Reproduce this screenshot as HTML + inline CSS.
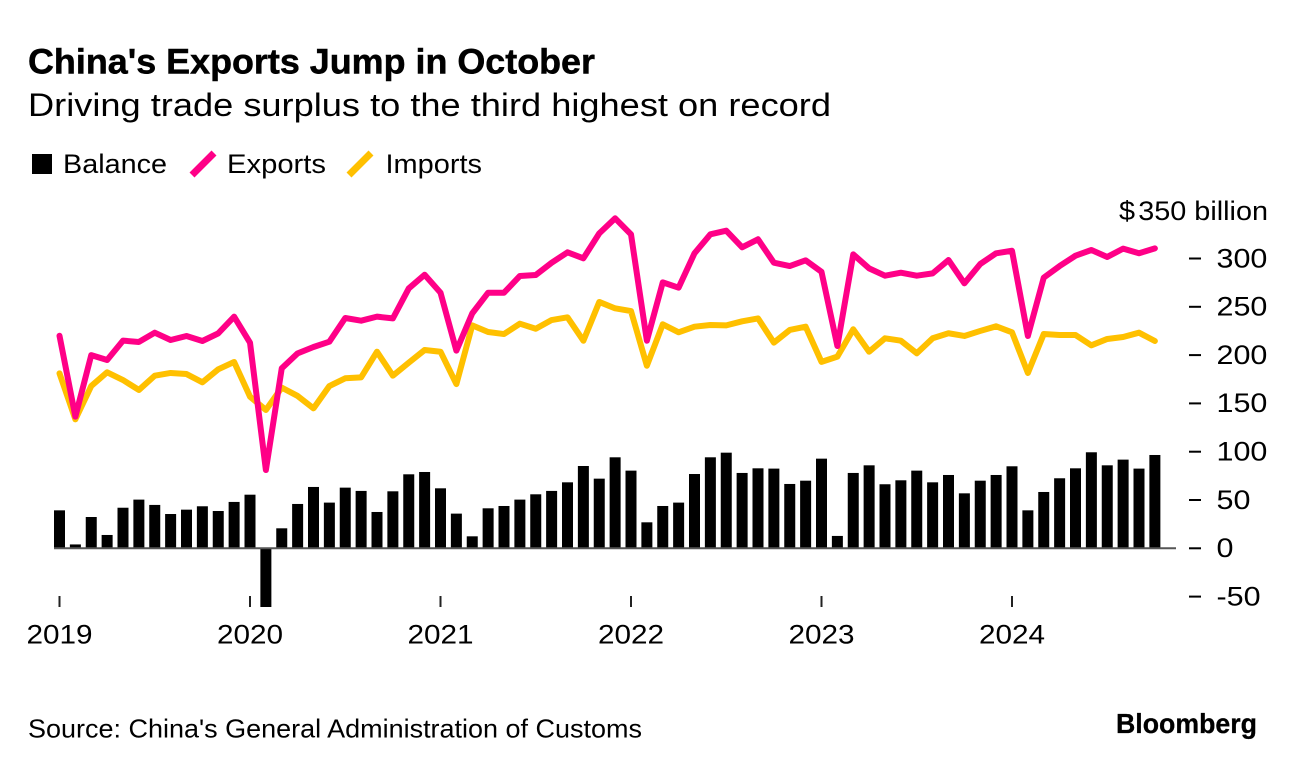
<!DOCTYPE html>
<html lang="en">
<head>
<meta charset="utf-8">
<title>China's Exports Jump in October</title>
<style>
  html, body { margin: 0; padding: 0; background: #fff; }
  body { width: 1296px; height: 770px; overflow: hidden; }
  svg { display: block; }
  text { font-family: "Liberation Sans", sans-serif; fill: #000; }
</style>
</head>
<body>
<svg id="chart" xmlns="http://www.w3.org/2000/svg" width="1296" height="770" viewBox="0 0 1296 770">
  <defs>
    <clipPath id="plot-clip"><rect x="40" y="190" width="1150" height="417"></rect></clipPath>
  </defs>
  <rect x="0" y="0" width="1296" height="770" fill="#fff"></rect>

  <text x="28" y="73.5" font-size="35.5" font-weight="700" stroke="#000" stroke-width="0.5" textLength="567" lengthAdjust="spacingAndGlyphs">China's Exports Jump in October</text>
  <text x="28" y="116" font-size="32" textLength="803" lengthAdjust="spacingAndGlyphs">Driving trade surplus to the third highest on record</text>

  <g>
    <rect x="32" y="154" width="20" height="20" fill="#000"></rect>
    <text x="63" y="173" font-size="27" textLength="104" lengthAdjust="spacingAndGlyphs">Balance</text>
    <line x1="192" y1="175" x2="214" y2="153" stroke="#ff0087" stroke-width="7"></line>
    <text x="227" y="173" font-size="27" textLength="99" lengthAdjust="spacingAndGlyphs">Exports</text>
    <line x1="349" y1="175" x2="371" y2="153" stroke="#ffc000" stroke-width="7"></line>
    <text x="385.5" y="173" font-size="27" textLength="96.5" lengthAdjust="spacingAndGlyphs">Imports</text>
  </g>

  <text x="1119" y="220" font-size="27" textLength="149" lengthAdjust="spacingAndGlyphs">$<tspan dx="3">350 billion</tspan></text>

  <g id="bars" clip-path="url(#plot-clip)"></g>
  <line id="zero-line" stroke="#555" stroke-width="2"></line>
  <path id="imports-line" fill="none" stroke="#ffc000" stroke-width="6" stroke-linejoin="round" stroke-linecap="round"></path>
  <path id="exports-line" fill="none" stroke="#ff0087" stroke-width="6" stroke-linejoin="round" stroke-linecap="round"></path>
  <g id="x-axis"></g>
  <g id="y-axis"></g>

  <text x="28" y="737.5" font-size="26" textLength="614" lengthAdjust="spacingAndGlyphs">Source: China's General Administration of Customs</text>
  <text x="1116" y="733" font-size="28" font-weight="700" stroke="#000" stroke-width="0.3" textLength="141" lengthAdjust="spacingAndGlyphs">Bloomberg</text>
</svg>

<script>
const yearLabels = ["2019", "2020", "2021", "2022", "2023", "2024"];
const yTicks = [300, 250, 200, 150, 100, 50, 0, -50];
const balance = [
  39.3, 4, 32.4, 13.8, 42, 50.4, 44.9, 35.5, 40, 43.5, 38.6, 48,
  55.5, -62, 20.7, 45.9, 63.5, 47.3, 62.8, 59.4, 37.6, 59, 76.6, 79,
  62.1, 35.9, 12.4, 41.4, 43.8, 50.4, 55.9, 59.4, 68.3, 85.2, 72.1, 94.2,
  80.4, 26.9, 43.8, 47.3, 76.9, 94.2, 99, 78, 82.8, 82.5, 66.6, 70,
  92.8, 12.8, 78, 85.9, 66.3, 70.4, 80.4, 68.3, 75.9, 56.9, 70, 75.9,
  84.9, 39.3, 58.3, 72.5, 82.8, 99.4, 85.9, 91.8, 82.5, 96.6
];
const exportsSeries = [
  220, 136.3, 200, 194.9, 215, 213.6, 223.2, 215.6, 219.8, 214.6, 222.5, 239.8,
  212.9, 81, 186.3, 201.8, 208.4, 213.9, 238.4, 235.6, 239.8, 238, 269, 283.2,
  264.6, 204.6, 243.2, 264.6, 264.6, 281.9, 282.9, 295.6, 306.4, 300.2, 326, 341.6,
  325, 214.9, 275.3, 269.8, 305.4, 325, 328.8, 311.6, 319.9, 295.7, 292.2, 298.1,
  286.2, 209.4, 304.3, 289.8, 282.2, 285.3, 282.2, 284.6, 298.4, 274.3, 294.3, 305.4,
  308, 219.8, 280.2, 292.2, 302.9, 308.8, 301.6, 310.2, 305.4, 310.5
];
const importsSeries = [
  181.1, 133.5, 168, 182.2, 174.2, 163.9, 178.7, 181.5, 180.4, 171.8, 185.3, 192.9,
  157, 143.2, 166.3, 157.7, 144.9, 168, 176, 177, 203.5, 178.7, 192.1, 205.3,
  203.5, 170, 230.8, 223.9, 221.8, 232.5, 227.3, 236.3, 239.1, 214.9, 255, 248.4,
  245.6, 189, 231.9, 223.6, 229.4, 231.2, 230.8, 235, 238, 212.9, 226, 229.4,
  193, 198.4, 226.7, 203.5, 217.4, 214.9, 201.9, 217.4, 222.6, 219.8, 225, 229.8,
  223.6, 181.5, 221.8, 220.8, 220.8, 210.1, 216.7, 218.7, 223.2, 214.6
];

const SVG_NS = "http://www.w3.org/2000/svg";
const xOrigin = 59.5;
const monthStep = 15.875;
const yZero = 548.3;
const pxPerUnit = 0.966;
const xScale = function (i) { return xOrigin + i * monthStep; };
const yScale = function (v) { return yZero - v * pxPerUnit; };

const barsGroup = document.getElementById("bars");
balance.forEach(function (value, i) {
  const bar = document.createElementNS(SVG_NS, "rect");
  
  
  bar.setAttribute("x", xScale(i) - 5.5);
  bar.setAttribute("width", 11);
  bar.setAttribute("y", Math.min(yScale(value), yZero));
  bar.setAttribute("height", Math.abs(value) * pxPerUnit);
  bar.setAttribute("fill", "#000");
  barsGroup.appendChild(bar);
});

const zeroLine = document.getElementById("zero-line");
zeroLine.setAttribute("x1", xScale(0) - 5.5);
zeroLine.setAttribute("x2", 1176);
zeroLine.setAttribute("y1", yScale(0));
zeroLine.setAttribute("y2", yScale(0));

function linePath(series) {
  return series.map(function (v, i) {
    return (i === 0 ? "M" : "L") + xScale(i).toFixed(2) + " " + yScale(v).toFixed(2);
  }).join(" ");
}
document.getElementById("exports-line").setAttribute("d", linePath(exportsSeries));
document.getElementById("imports-line").setAttribute("d", linePath(importsSeries));

const yAxis = document.getElementById("y-axis");
yTicks.forEach(function (value) {
  const y = yScale(value);
  const tick = document.createElementNS(SVG_NS, "line");
  
  
  tick.setAttribute("x1", 1189);
  tick.setAttribute("x2", 1201);
  tick.setAttribute("y1", y);
  tick.setAttribute("y2", y);
  tick.setAttribute("stroke", "#000");
  tick.setAttribute("stroke-width", 2);
  yAxis.appendChild(tick);
  const label = document.createElementNS(SVG_NS, "text");
  
  
  label.setAttribute("font-size", 27);
  label.setAttribute("transform", "translate(1216.5 " + (y + 8.8) + ") scale(1.13 1)");
  label.textContent = String(value);
  yAxis.appendChild(label);
});

const xAxis = document.getElementById("x-axis");
yearLabels.forEach(function (year, i) {
  const x = xScale(i * 12);
  const tick = document.createElementNS(SVG_NS, "line");
  
  
  tick.setAttribute("x1", x);
  tick.setAttribute("x2", x);
  tick.setAttribute("y1", 596);
  tick.setAttribute("y2", 607);
  tick.setAttribute("stroke", "#222");
  tick.setAttribute("stroke-width", 2);
  xAxis.appendChild(tick);
  const label = document.createElementNS(SVG_NS, "text");
  
  
  label.setAttribute("font-size", 27);
  label.setAttribute("text-anchor", "middle");
  label.setAttribute("transform", "translate(" + x + " 643.3) scale(1.1 1)");
  label.textContent = year;
  xAxis.appendChild(label);
});
</script>
</body>
</html>
